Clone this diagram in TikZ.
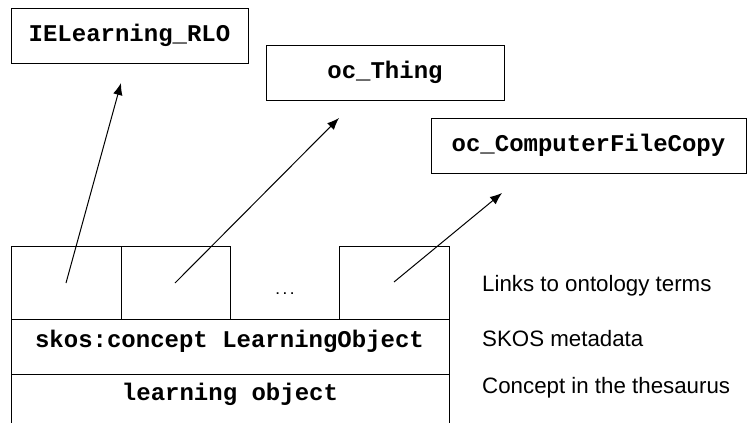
\documentclass[tikz,border=0pt]{standalone}
\usepackage{fontspec}
\setmainfont{Liberation Sans}
\newfontfamily\codefont{Liberation Mono}
\usetikzlibrary{arrows.meta}
\tikzset{
  box/.style={draw, line width=1pt, inner sep=0pt, font=\codefont\bfseries\fontsize{24}{28}\selectfont},
  codetext/.style={inner sep=0pt, font=\codefont\bfseries\fontsize{24}{28}\selectfont},
  note/.style={inner sep=0pt, anchor=base west, font=\fontsize{22.3}{26}\selectfont},
  link/.style={line width=1pt, -{Latex[length=12pt,width=9.5pt]}}
}
\begin{document}
\begin{tikzpicture}[x=1pt,y=-1pt]
\useasboundingbox (0,0) rectangle (747,423);
\clip (0,0) rectangle (747,423);
% ontology terms
\node[box, minimum width=237pt, minimum height=55pt] (rlo) at (129.5,35.5) {IELearning\_RLO};
\node[box, minimum width=238pt, minimum height=55pt] (thing) at (385,72.5) {oc\_Thing};
\node[box, minimum width=315pt, minimum height=55pt] (copy) at (588.5,145.5) {oc\_ComputerFileCopy};
% link cells
\node[box, minimum width=110pt, minimum height=73pt] (c1) at (66,282.5) {};
\node[box, minimum width=109pt, minimum height=73pt] (c2) at (175.5,282.5) {};
\node[inner sep=0pt, anchor=base, font=\codefont\bfseries\fontsize{12}{14}\selectfont] (c3) at (285,294) {...};
\node[box, minimum width=110pt, minimum height=73pt] (c4) at (394,282.5) {};
% metadata row
\node[box, minimum width=438pt, minimum height=55pt] (meta) at (230,346.5) {};
\node[codetext, anchor=base] (metatext) at (229.5,347) {skos:concept LearningObject};
% concept row
\node[box, minimum width=438pt, minimum height=66pt] (concept) at (230,407) {};
\node[codetext, anchor=base] (concepttext) at (230,400) {learning object};
% right labels
\node[note] (l1) at (482,291.5) {Links to ontology terms};
\node[note] (l2) at (482,346) {SKOS metadata};
\node[note] (l3) at (482,393) {Concept in the thesaurus};
% arrows
\coordinate (t1) at (66,283);
\coordinate (h1) at (121,83);
\coordinate (t2) at (175,283);
\coordinate (h2) at (339,118);
\coordinate (t3) at (394,282);
\coordinate (h3) at (502,193);
\draw[link] (t1) -- (h1);
\draw[link] (t2) -- (h2);
\draw[link] (t3) -- (h3);
\end{tikzpicture}
\end{document}
